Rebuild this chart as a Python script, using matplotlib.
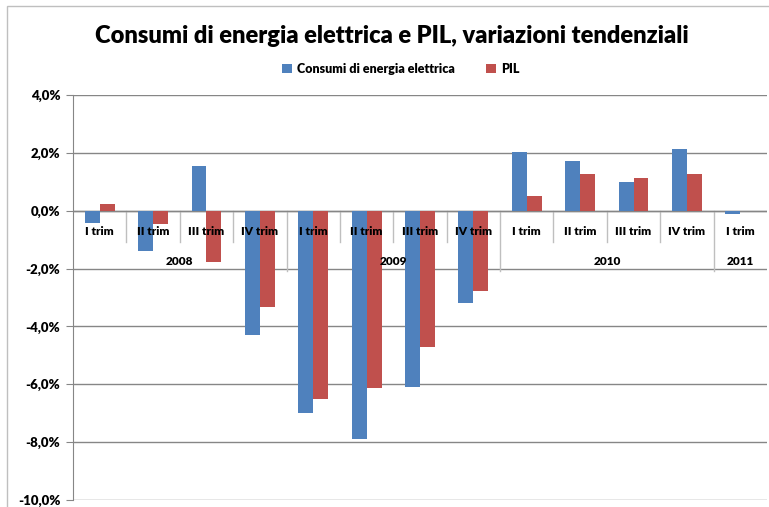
import numpy as np
import matplotlib
matplotlib.use("Agg")
import matplotlib.pyplot as plt
from matplotlib.patches import Rectangle

# Data
quarters = ["I trim", "II trim", "III trim", "IV trim",
            "I trim", "II trim", "III trim", "IV trim",
            "I trim", "II trim", "III trim", "IV trim",
            "I trim"]
years = ["2008", "2009", "2010", "2011"]
year_counts = [4, 4, 4, 1]
consumi = [-0.41, -1.40, 1.55, -4.31, -6.98, -7.90, -6.10, -3.20,
           2.03, 1.72, 1.00, 2.14, -0.13]
pil = [0.24, -0.45, -1.76, -3.34, -6.52, -6.14, -4.72, -2.79,
       0.50, 1.28, 1.14, 1.26, np.nan]
yticks = [4, 2, 0, -2, -4, -6, -8, -10]

BLUE = "#4F81BD"
RED = "#C0504D"
GRID = "#868686"

plt.rcParams["font.family"] = ["Lato", "DejaVu Sans"]

fig = plt.figure(figsize=(7.69, 5.07), dpi=100)
ax = fig.add_axes([73 / 769, 7 / 507, 694 / 769, 405 / 507])

n = len(quarters)
x = np.arange(n)
w = 0.28
ax.bar(x - w / 2, consumi, w, color=BLUE, label="Consumi di energia elettrica", zorder=3)
ax.bar(x + w / 2, pil, w, color=RED, label="PIL", zorder=3)

ax.set_xlim(-0.5, n - 0.5)
ax.set_ylim(-10, 4)
ax.set_yticks(yticks)
ax.set_yticklabels([f"{v:.1f}%".replace(".", ",") for v in yticks],
                   fontsize=9.5, fontweight="heavy")
ax.yaxis.grid(True, color=GRID, linewidth=1, zorder=0)
ax.set_axisbelow(True)
ax.tick_params(axis="y", length=5, color=GRID, pad=4)
ax.set_xticks([])
for s in ["top", "right", "bottom"]:
    ax.spines[s].set_visible(False)
ax.spines["left"].set_color(GRID)

# zero axis
ax.axhline(0, color=GRID, linewidth=1, zorder=2)

# category labels
for i, q in enumerate(quarters):
    ax.text(i, -0.72, q, ha="center", va="center", fontsize=8.5,
            fontweight="heavy", zorder=5)

# separators between quarters and years
bounds = np.cumsum(year_counts)
for i in range(1, n):
    if i in bounds:
        ax.plot([i - 0.5, i - 0.5], [0, -2.07], color="#BFBFBF", lw=1, zorder=1)
    else:
        ax.plot([i - 0.5, i - 0.5], [0, -1.07], color="#BFBFBF", lw=1, zorder=1)

start = 0
for yr, c in zip(years, year_counts):
    ax.text(start + c / 2 - 0.5, -1.76, yr, ha="center", va="center",
            fontsize=8.5, fontweight="heavy", zorder=5)
    start += c

fig.text(392 / 769, 1 - 36 / 507, "Consumi di energia elettrica e PIL, variazioni tendenziali",
         ha="center", va="center", fontsize=17, fontweight="heavy")
fig.legend(loc="center", bbox_to_anchor=(401 / 769, 1 - 69 / 507), ncol=2,
           frameon=False, handlelength=0.8, handleheight=0.8,
           columnspacing=2.5, handletextpad=0.4,
           prop={"weight": "heavy", "size": 9})

# chart border
fig.patches.append(Rectangle((7 / 769, -0.01), 1.0, 1.0 - 6 / 507 + 0.01,
                             transform=fig.transFigure, fill=False,
                             edgecolor="#BFBFBF", lw=1))

plt.savefig("out.png", dpi=100)
plt.close()
